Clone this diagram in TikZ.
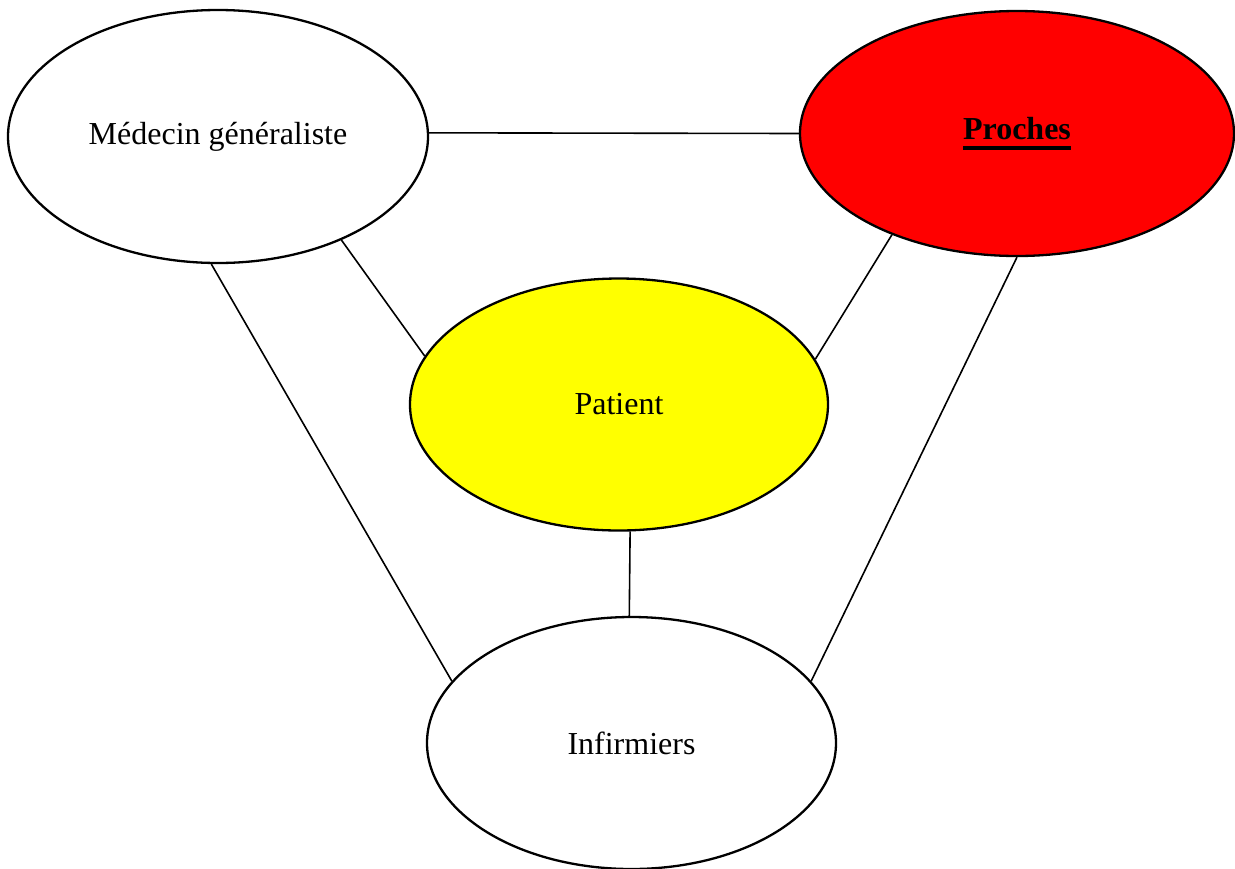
\documentclass[tikz,border=0pt]{standalone}
\usepackage{fontspec}
\setmainfont{Liberation Serif}
\usetikzlibrary{shapes.geometric}
\definecolor{yel}{RGB}{255,255,0}
\definecolor{rd}{RGB}{255,0,0}
\newcommand\myul[1]{\setbox0\hbox{#1}\rlap{\rule[-10pt]{\wd0}{3.2pt}}\box0}
\begin{document}
\begin{tikzpicture}[x=1pt,y=-1pt,
  oval/.style={ellipse,draw=black,line width=2.3pt,inner sep=0pt,
    font=\fontsize{32}{38}\selectfont},
  link/.style={draw=black,line width=1.6pt}]
\useasboundingbox (0,0) rectangle (1235,868);
\node[oval,fill=white,minimum width=420pt,minimum height=253pt] (med) at (218,136.5) {Médecin généraliste};
\node[oval,fill=rd,minimum width=434pt,minimum height=245pt] (pro) at (1017,133.5) {\myul{\bfseries Proches}};
\node[oval,fill=yel,minimum width=418pt,minimum height=252pt] (pat) at (619,404.5) {Patient};
\node[oval,fill=white,minimum width=409pt,minimum height=252pt] (inf) at (631.5,743) {Infirmiers};
\draw[link] (med.1.1) -- (pro.180);
\draw[link] (med.-40.6) -- (pat.166.9);
\draw[link] (pro.-141.9) -- (pat.13.8);
\draw[link] (med.-93.6) -- (inf.161.1);
\draw[link] (pro.-90.5) -- (inf.19.4);
\draw[link] (pat.-85.6) -- (inf.91.1);
\end{tikzpicture}
\end{document}
